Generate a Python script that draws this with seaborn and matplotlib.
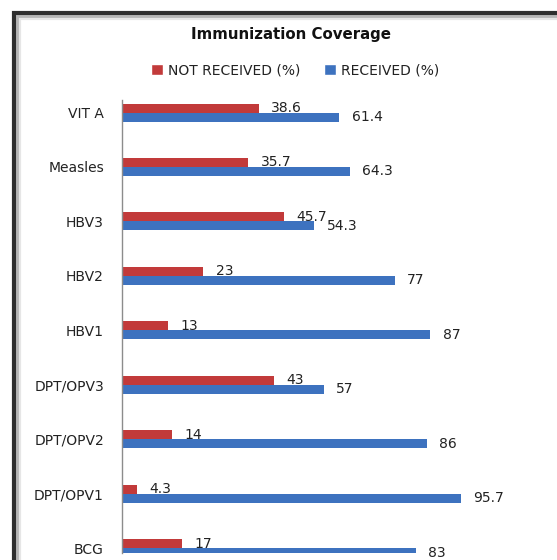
import matplotlib
matplotlib.use("Agg")
import matplotlib.pyplot as plt
from matplotlib.patches import Rectangle, Patch
import seaborn as sns
import pandas as pd

# values (top to bottom)
vaccines = ["VIT A", "Measles", "HBV3", "HBV2", "HBV1",
            "DPT/OPV3", "DPT/OPV2", "DPT/OPV1", "BCG"]
not_received = [38.6, 35.7, 45.7, 23, 13, 43, 14, 4.3, 17]
received = [61.4, 64.3, 54.3, 77, 87, 57, 86, 95.7, 83]
series = ["NOT RECEIVED (%)", "RECEIVED (%)"]
colors = ["#C23A3A", "#3D72BF"]

df = pd.DataFrame({"Vaccine": vaccines,
                   series[0]: not_received,
                   series[1]: received})
long_df = df.melt(id_vars="Vaccine", var_name="Status", value_name="Pct")

sns.set_theme(style="white")
plt.rcParams["font.family"] = ["DejaVu Sans"]

W, H = 557, 560
fig = plt.figure(figsize=(W / 100, H / 100), dpi=100)
ax = fig.add_axes([122 / W, (H - 553) / H, 425 / W, 453 / H])

sns.barplot(data=long_df, y="Vaccine", x="Pct", hue="Status",
            order=vaccines, hue_order=series, palette=colors,
            orient="h", width=0.33, saturation=1, linewidth=0,
            ax=ax, legend=False)

for cont, vals in zip(ax.containers, [not_received, received]):
    ax.bar_label(cont, labels=[f"{v:g}" for v in vals], padding=9,
                 fontsize=10, color="#222222")

ax.set_xlim(0, 120)
ax.set_ylim(8.09, -0.23)
ax.set_xlabel("")
ax.set_ylabel("")
ax.set_xticks([])
for s in ["top", "right", "bottom"]:
    ax.spines[s].set_visible(False)
ax.spines["left"].set_color("#8c8c8c")
ax.spines["left"].set_linewidth(1)
ax.tick_params(axis="y", length=0, pad=13, labelsize=10, labelcolor="#222222")

fig.text(291 / W, 1 - 35 / H, "Immunization Coverage", ha="center", va="center",
         fontsize=10.8, fontweight="bold", color="#111111")

handles = [Patch(facecolor=c, label=l) for c, l in zip(colors, series)]
fig.legend(handles=handles, loc="center", ncol=2, frameon=False,
           bbox_to_anchor=(295 / W, 1 - 70 / H), fontsize=10,
           handlelength=0.85, handleheight=0.85, handletextpad=0.35,
           columnspacing=1.7, labelcolor="#222222")

# chart frame with a soft inner shadow
for off, col, lw in [(7, "#e6e6e6", 3), (4.5, "#b5b5b5", 2), (2, "#2e2e2e", 3)]:
    fig.patches.append(Rectangle(((12 + off) / W, -0.2), 1.2, 1.2 - (11 + off) / H,
                                 transform=fig.transFigure, fill=False,
                                 edgecolor=col, linewidth=lw))

fig.savefig("out.png", dpi=100)
